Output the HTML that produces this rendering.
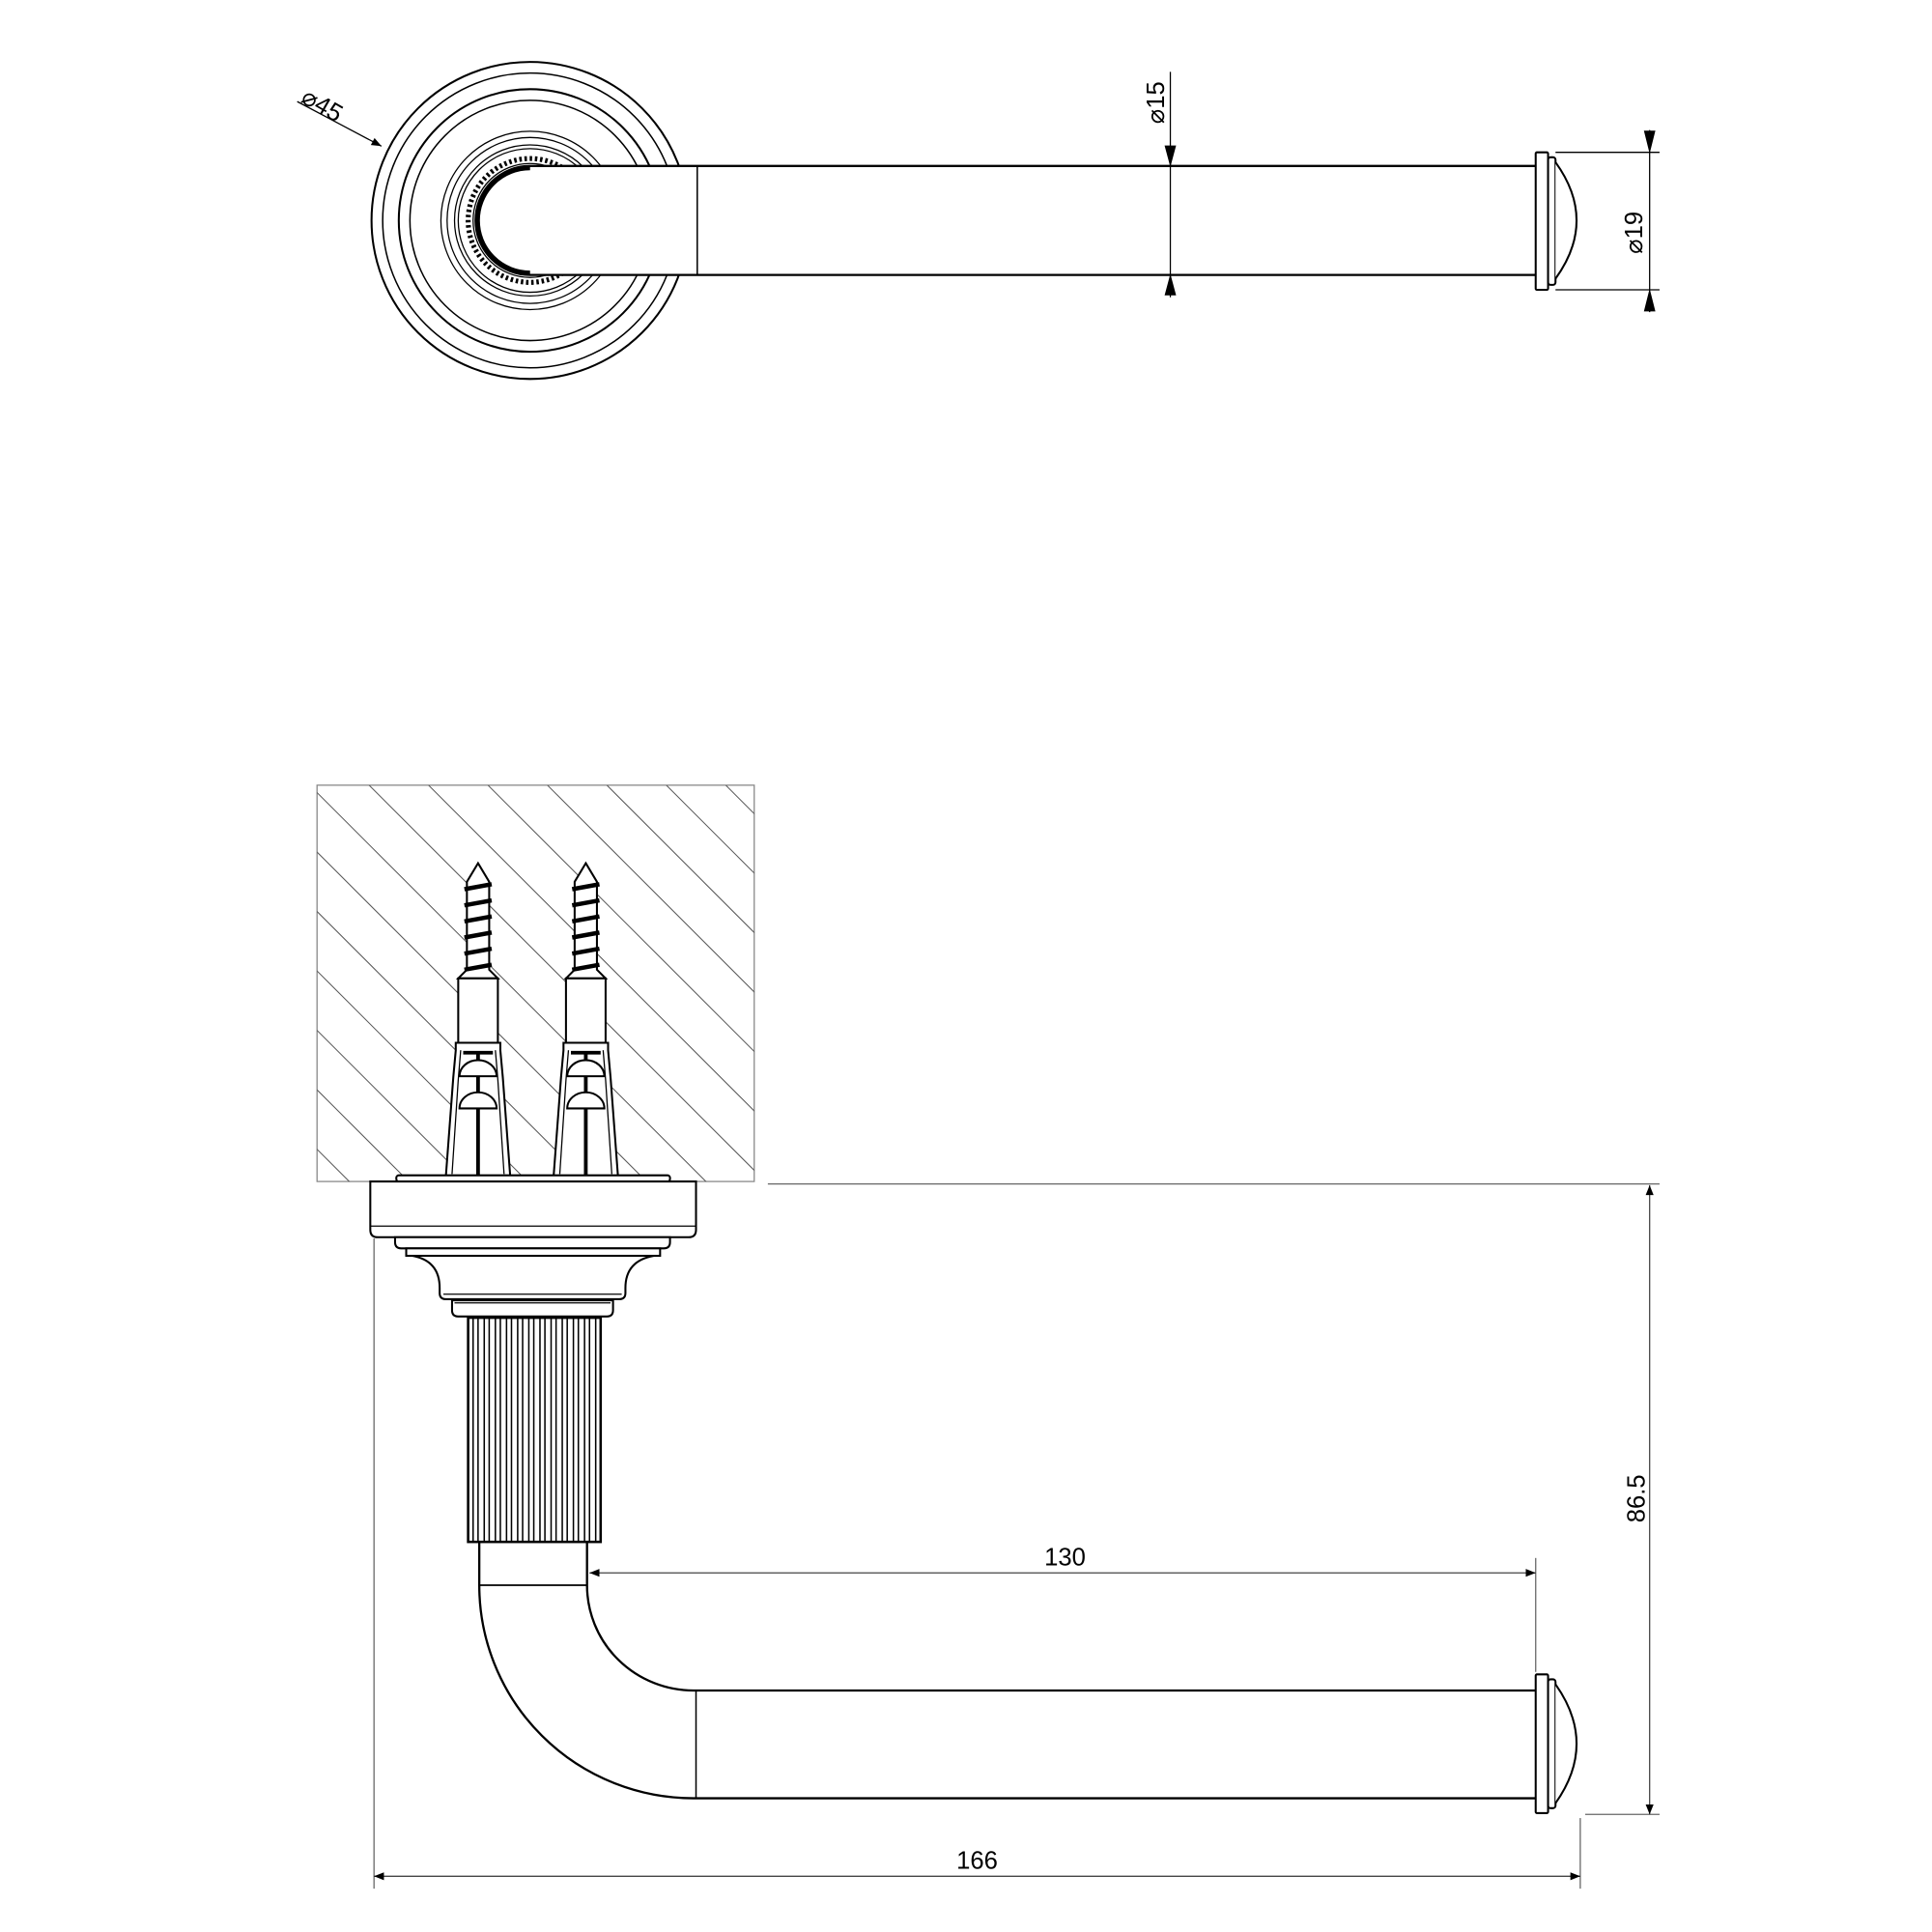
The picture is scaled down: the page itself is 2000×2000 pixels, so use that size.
<!DOCTYPE html>
<html><head><style>html,body{margin:0;padding:0;background:#fff}svg{display:block}</style></head>
<body>
<svg width="2000" height="2000" viewBox="0 0 1560 1560" xmlns="http://www.w3.org/2000/svg" font-family="Liberation Sans, DejaVu Sans, sans-serif">
<defs>
<clipPath id="wall"><rect x="256" y="634" width="353" height="320"/></clipPath>
<marker id="ar" viewBox="0 0 10 10" refX="10" refY="5" markerWidth="14" markerHeight="8" markerUnits="userSpaceOnUse" orient="auto-start-reverse"><path d="M0,1 L10,5 L0,9 z" fill="#000"/></marker>
</defs>
<rect width="1560" height="1560" fill="#fff"/>

<!-- ===== TOP VIEW ===== -->
<g fill="none" stroke="#000" stroke-width="1.6">
<circle cx="428" cy="178" r="128"/>
<circle cx="428" cy="178" r="119" stroke-width="1.2"/>
<circle cx="428" cy="178" r="106"/>
<circle cx="428" cy="178" r="97" stroke-width="1.2"/>
<circle cx="428" cy="178" r="72" stroke-width="1"/>
<circle cx="428" cy="178" r="67" stroke-width="1"/>
<circle cx="428" cy="178" r="61" stroke-width="1"/>
<circle cx="428" cy="178" r="58" stroke-width="1"/>
<circle cx="428" cy="178" r="50" stroke-width="4" stroke-dasharray="2 2.2"/>
<circle cx="428" cy="178" r="46" stroke-width="1"/>
</g>
<path d="M1240,134 H428 A44,44 0 0 0 428,222 H1240" fill="#fff" stroke="#000" stroke-width="1.8"/>
<path d="M428,136 A42,42 0 0 0 428,220" fill="none" stroke="#000" stroke-width="3"/>
<line x1="563" y1="134" x2="563" y2="222" stroke="#000" stroke-width="1.2"/>
<!-- end cap top -->
<g fill="#fff" stroke="#000" stroke-width="1.6">
<rect x="1240" y="123" width="10" height="111" rx="1"/>
<rect x="1250" y="127" width="6" height="103" rx="2"/>
<path d="M1256,131 Q1290,178 1256,225"/>
</g>
<!-- dim 15 -->
<g stroke="#000" stroke-width="1">
<line x1="945" y1="58" x2="945" y2="240"/>
<path d="M941,118 L945,133 L949,118z M941,238 L945,223 L949,238z" fill="#000"/>
</g>
<text transform="translate(940,100) rotate(-90)" font-size="20">⌀15</text>
<!-- dim 19 -->
<g stroke="#000" stroke-width="1">
<line x1="1256" y1="123" x2="1340" y2="123"/>
<line x1="1256" y1="234" x2="1340" y2="234"/>
<line x1="1332" y1="105" x2="1332" y2="252"/>
<path d="M1328,106 L1332,122 L1336,106z M1328,251 L1332,235 L1336,251z" fill="#000"/>
</g>
<text transform="translate(1326,205) rotate(-90)" font-size="20">⌀19</text>
<!-- dim 45 -->
<line x1="240" y1="82" x2="308" y2="118" stroke="#000" stroke-width="1" marker-end="url(#ar)"/>
<text transform="translate(242,82) rotate(30)" font-size="20">⌀45</text>

<!-- ===== SIDE VIEW ===== -->
<rect x="256" y="634" width="353" height="320" fill="#fff" stroke="#888" stroke-width="1"/>
<g clip-path="url(#wall)" stroke="#555" stroke-width="0.8">
<line x1="-86" y1="634" x2="334" y2="1054"/><line x1="-38" y1="634" x2="382" y2="1054"/>
<line x1="10" y1="634" x2="430" y2="1054"/><line x1="58" y1="634" x2="478" y2="1054"/>
<line x1="106" y1="634" x2="526" y2="1054"/><line x1="154" y1="634" x2="574" y2="1054"/>
<line x1="202" y1="634" x2="622" y2="1054"/><line x1="250" y1="634" x2="670" y2="1054"/>
<line x1="298" y1="634" x2="718" y2="1054"/><line x1="346" y1="634" x2="766" y2="1054"/>
<line x1="394" y1="634" x2="814" y2="1054"/><line x1="442" y1="634" x2="862" y2="1054"/>
<line x1="490" y1="634" x2="910" y2="1054"/><line x1="538" y1="634" x2="958" y2="1054"/>
<line x1="586" y1="634" x2="1006" y2="1054"/>
</g>
<line x1="620" y1="956" x2="1340" y2="956" stroke="#666" stroke-width="1"/>

<!-- screws -->
<g id="screw" fill="#fff" stroke="#000" stroke-width="1.6">
<path d="M386,697 L395,712 L395,783 L402,790 L370,790 L377,783 L377,712 Z"/>
<g stroke-width="3.5">
<line x1="375" y1="718" x2="397" y2="714"/><line x1="375" y1="731" x2="397" y2="727"/>
<line x1="375" y1="744" x2="397" y2="740"/><line x1="375" y1="757" x2="397" y2="753"/>
<line x1="375" y1="770" x2="397" y2="766"/><line x1="375" y1="783" x2="397" y2="779"/>
</g>
<rect x="370" y="790" width="32" height="52"/>
<path d="M368,842 H404 V848 L406,870 L412,950 H360 L366,870 L368,848 Z"/>
<path d="M372,848 L370,872 L365,948 M400,848 L402,872 L407,948" stroke-width="1"/>
<line x1="374" y1="850" x2="398" y2="850" stroke-width="3"/>
<line x1="386" y1="850" x2="386" y2="952" stroke-width="3"/>
<path d="M371,869 A15,13 0 0 1 401,869 Z"/>
<path d="M371,895 A15,13 0 0 1 401,895 Z"/>
</g>
<use href="#screw" x="87"/>

<!-- rose base -->
<g fill="#fff" stroke="#000" stroke-width="1.6">
<rect x="320" y="949" width="221" height="5" rx="2"/>
<path d="M299,954 H562 V993 Q562,999 556,999 H305 Q299,999 299,993 Z"/>
<line x1="299" y1="990" x2="562" y2="990" stroke-width="1"/>
<path d="M319,999 H541 V1003 Q541,1008 536,1008 H324 Q319,1008 319,1003 Z"/>
<rect x="328" y="1008" width="205" height="6"/>
<path d="M333,1014 Q355,1018 355,1040 V1044 Q355,1049 360,1049 H500 Q505,1049 505,1044 V1040 Q505,1018 528,1014 Z"/>
<line x1="358" y1="1045" x2="502" y2="1045" stroke-width="1"/>
<path d="M365,1050 H495 V1058 Q495,1063 490,1063 H370 Q365,1063 365,1058 Z"/>
<line x1="367" y1="1052" x2="493" y2="1052" stroke-width="1"/>
</g>
<!-- knurl -->
<rect x="378" y="1064" width="107" height="181" fill="#fff" stroke="#000" stroke-width="2"/>
<g stroke="#000" stroke-width="1.2">
<line x1="382" y1="1064" x2="382" y2="1245"/><line x1="386" y1="1064" x2="386" y2="1245"/><line x1="391" y1="1064" x2="391" y2="1245"/><line x1="395" y1="1064" x2="395" y2="1245"/><line x1="400" y1="1064" x2="400" y2="1245"/><line x1="404" y1="1064" x2="404" y2="1245"/><line x1="409" y1="1064" x2="409" y2="1245"/><line x1="413" y1="1064" x2="413" y2="1245"/><line x1="418" y1="1064" x2="418" y2="1245"/><line x1="422" y1="1064" x2="422" y2="1245"/><line x1="427" y1="1064" x2="427" y2="1245"/><line x1="431" y1="1064" x2="431" y2="1245"/><line x1="436" y1="1064" x2="436" y2="1245"/><line x1="440" y1="1064" x2="440" y2="1245"/><line x1="445" y1="1064" x2="445" y2="1245"/><line x1="449" y1="1064" x2="449" y2="1245"/><line x1="454" y1="1064" x2="454" y2="1245"/><line x1="458" y1="1064" x2="458" y2="1245"/><line x1="463" y1="1064" x2="463" y2="1245"/><line x1="467" y1="1064" x2="467" y2="1245"/><line x1="472" y1="1064" x2="472" y2="1245"/><line x1="476" y1="1064" x2="476" y2="1245"/><line x1="481" y1="1064" x2="481" y2="1245"/>
</g>
<!-- lever -->
<g fill="none" stroke="#000" stroke-width="1.8">
<path d="M387,1245 V1280 A173,172 0 0 0 560,1452 H1240"/>
<path d="M474,1245 V1280 A86,85 0 0 0 560,1365 H1240"/>
<line x1="387" y1="1280" x2="474" y2="1280" stroke-width="1.4"/>
<line x1="562" y1="1365" x2="562" y2="1452" stroke-width="1.2"/>
</g>
<g fill="#fff" stroke="#000" stroke-width="1.6">
<rect x="1240" y="1352" width="10" height="112" rx="1"/>
<rect x="1250" y="1356" width="6" height="104" rx="2"/>
<path d="M1256,1360 Q1290,1408 1256,1456"/>
</g>
<!-- dimensions bottom -->
<g stroke="#666" stroke-width="1">
<line x1="1240" y1="1258" x2="1240" y2="1350"/>
<line x1="302" y1="1000" x2="302" y2="1525"/>
<line x1="1276" y1="1468" x2="1276" y2="1525"/>
<line x1="1280" y1="1465" x2="1340" y2="1465"/>
</g>
<line x1="476" y1="1270" x2="1240" y2="1270" stroke="#444" stroke-width="1" marker-start="url(#ar)" marker-end="url(#ar)"/>
<line x1="302" y1="1515" x2="1276" y2="1515" stroke="#444" stroke-width="1" marker-start="url(#ar)" marker-end="url(#ar)"/>
<line x1="1332" y1="957" x2="1332" y2="1465" stroke="#444" stroke-width="1" marker-start="url(#ar)" marker-end="url(#ar)"/>
<text x="860" y="1264" font-size="20" text-anchor="middle">130</text>
<text x="789" y="1509" font-size="20" text-anchor="middle">166</text>
<text transform="translate(1328,1210) rotate(-90)" font-size="20" text-anchor="middle">86.5</text>
</svg>
</body></html>
